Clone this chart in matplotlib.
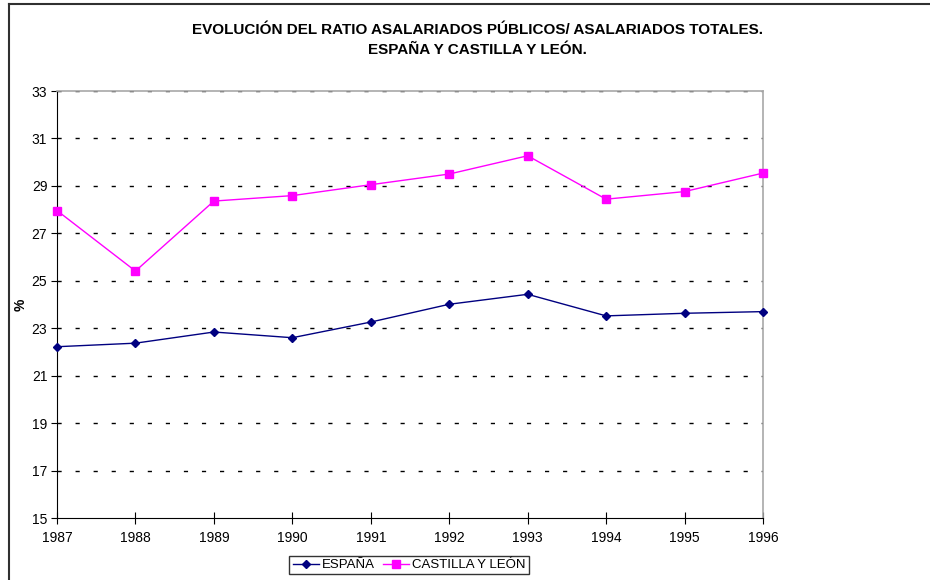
import matplotlib.pyplot as plt
from matplotlib.lines import Line2D

plt.rcParams['font.family'] = ['Liberation Sans', 'DejaVu Sans']

years = [1987, 1988, 1989, 1990, 1991, 1992, 1993, 1994, 1995, 1996]
espana = [22.22, 22.37, 22.84, 22.60, 23.26, 24.01, 24.43, 23.52, 23.63, 23.70]
castilla = [27.96, 25.41, 28.36, 28.59, 29.05, 29.50, 30.27, 28.44, 28.76, 29.54]
yticks = [15, 17, 19, 21, 23, 25, 27, 29, 31, 33]

fig = plt.figure(figsize=(9.3, 5.8), dpi=100)
ax = fig.add_axes([57/930, 1-518/580, (763-57)/930, (518-91)/580])

ax.plot(years, espana, color='#000080', lw=1, marker='D', ms=4.5, label='ESPAÑA', clip_on=False, zorder=3)
ax.plot(years, castilla, color='#FF00FF', lw=1, marker='s', ms=6, label='CASTILLA Y LEÓN', clip_on=False, zorder=3)

ax.set_xlim(1987, 1996)
ax.set_ylim(15, 33)
ax.set_xticks(years)
ax.set_yticks(yticks)
for t in yticks[1:]:
    ax.axhline(t, color='black', lw=1, dashes=(3, 10), zorder=1)

ax.spines['top'].set_color('#a8a8a8')
ax.spines['right'].set_color('#a8a8a8')
ax.spines['top'].set_linewidth(1.2)
ax.spines['right'].set_linewidth(1.2)
ax.tick_params(axis='x', direction='inout', length=8, labelsize=10, pad=5)
ax.tick_params(axis='y', direction='out', length=4, labelsize=10, pad=3)
ax.set_ylabel('%', fontsize=10, fontweight='bold', labelpad=3)

fig.text(477/930, 1-30/580, 'EVOLUCIÓN DEL RATIO ASALARIADOS PÚBLICOS/ ASALARIADOS TOTALES.',
         ha='center', va='center', fontsize=11, fontweight='bold')
fig.text(477/930, 1-50/580, 'ESPAÑA Y CASTILLA Y LEÓN.',
         ha='center', va='center', fontsize=11, fontweight='bold')

leg = fig.legend(loc='center', bbox_to_anchor=(409/930, 1-565/580), ncol=2, fontsize=9.5,
                 frameon=True, fancybox=False, edgecolor='black', handlelength=2.0,
                 columnspacing=0.6, handletextpad=0.2, borderpad=0.25, borderaxespad=0)
leg.get_frame().set_linewidth(1)

# outer chart border
fig.add_artist(Line2D([9/930, 9/930], [0, 1-4/580], color='#303030', lw=1.5, transform=fig.transFigure))
fig.add_artist(Line2D([9/930, 1], [1-4/580, 1-4/580], color='#303030', lw=1.5, transform=fig.transFigure))

fig.savefig('out.png', dpi=100)
